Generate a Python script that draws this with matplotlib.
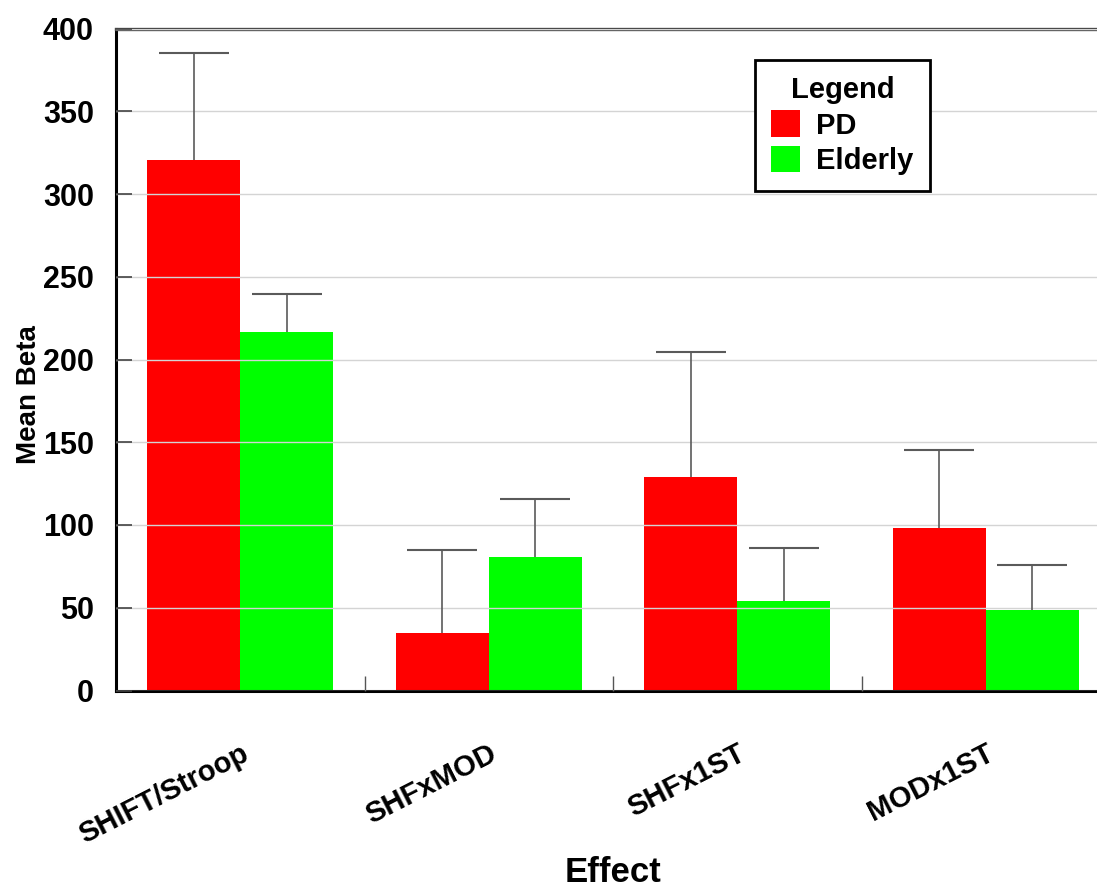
import matplotlib
matplotlib.use('Agg')
import matplotlib.pyplot as plt
import matplotlib.transforms as mtransforms
import numpy as np

plt.rcParams['font.family'] = ['Liberation Sans', 'DejaVu Sans']
plt.rcParams['font.weight'] = 'bold'

effects = ['SHIFT/Stroop', 'SHFxMOD', 'SHFx1ST', 'MODx1ST']
pd_mean = [320.5, 34.7, 129.0, 98.0]
pd_err = [64.5, 50.3, 75.5, 47.1]
elderly_mean = [216.8, 80.8, 54.1, 48.6]
elderly_err = [23.0, 34.7, 32.0, 27.0]
y_ticks = [0, 50, 100, 150, 200, 250, 300, 350, 400]

W, H = 1097, 891
fig = plt.figure(figsize=(W / 100, H / 100), dpi=100)
ax = fig.add_axes([116 / W, 1 - 690.5 / H, (1110 - 116) / W, (690.5 - 28.5) / H])

x = np.arange(len(effects))
bw = 0.375
ax.bar(x - bw / 2, pd_mean, bw, color='#ff0000', label='PD', zorder=1)
ax.bar(x + bw / 2, elderly_mean, bw, color='#00ff00', label='Elderly', zorder=1)

# upper-only error bars
for xs, m, e in [(x - bw / 2, pd_mean, pd_err), (x + bw / 2, elderly_mean, elderly_err)]:
    eb = ax.errorbar(xs, m, yerr=[np.zeros(len(e)), e], fmt='none', ecolor='#5a5a5a',
                     elinewidth=1.2, capsize=25, capthick=1.5, zorder=3)
    eb[1][0].set_visible(False)

ax.set_xlim(-0.5, 3.5)
ax.set_ylim(0, 400)
ax.set_yticks(y_ticks)
ax.set_yticklabels([str(t) for t in y_ticks], fontsize=22, fontweight='bold')
ax.yaxis.grid(True, color='#d4d4d4', linewidth=1, zorder=2)
ax.set_axisbelow(False)

ax.set_xticks(x)
ax.set_xticklabels(effects, fontsize=21, fontweight='bold', rotation=27,
                   ha='right', va='top', rotation_mode='anchor')
shift = mtransforms.ScaledTranslation(-7 / 100, 4 / 100, fig.dpi_scale_trans)
for lbl in ax.get_xticklabels():
    lbl.set_transform(lbl.get_transform() + shift)
ax.set_xticks([0.5, 1.5, 2.5], minor=True)
ax.tick_params(axis='x', which='major', length=0, pad=35)
ax.tick_params(axis='x', which='minor', direction='in', length=11, width=1, color='#555555')
ax.tick_params(axis='y', which='major', direction='in', length=11.5, width=1.2,
               color='#444444', pad=16)

for s in ['left', 'bottom']:
    ax.spines[s].set_linewidth(2.2)
    ax.spines[s].set_color('black')
ax.spines['top'].set_linewidth(2.4)
ax.spines['top'].set_color('#4a4a4a')
ax.spines['right'].set_visible(False)

fig.text(613 / W, 1 - 872 / H, 'Effect', fontsize=25, fontweight='bold',
         ha='center', va='center')
fig.text(29 / W, 1 - 395 / H, 'Mean Beta', fontsize=20, fontweight='bold',
         ha='center', va='center', rotation=90)

leg = ax.legend(title='Legend', loc='upper left', bbox_to_anchor=(755 / W, 1 - 60 / H),
                bbox_transform=fig.transFigure, borderaxespad=0, fancybox=False,
                edgecolor='black', framealpha=1, fontsize=21, title_fontsize=21,
                handlelength=1.0, handleheight=1.0, handletextpad=0.55,
                labelspacing=0.22, borderpad=0.55)
leg.get_frame().set_linewidth(2)
leg.get_title().set_fontweight('bold')
for t in leg.get_texts():
    t.set_fontweight('bold')

fig.savefig('out.png', dpi=100)
